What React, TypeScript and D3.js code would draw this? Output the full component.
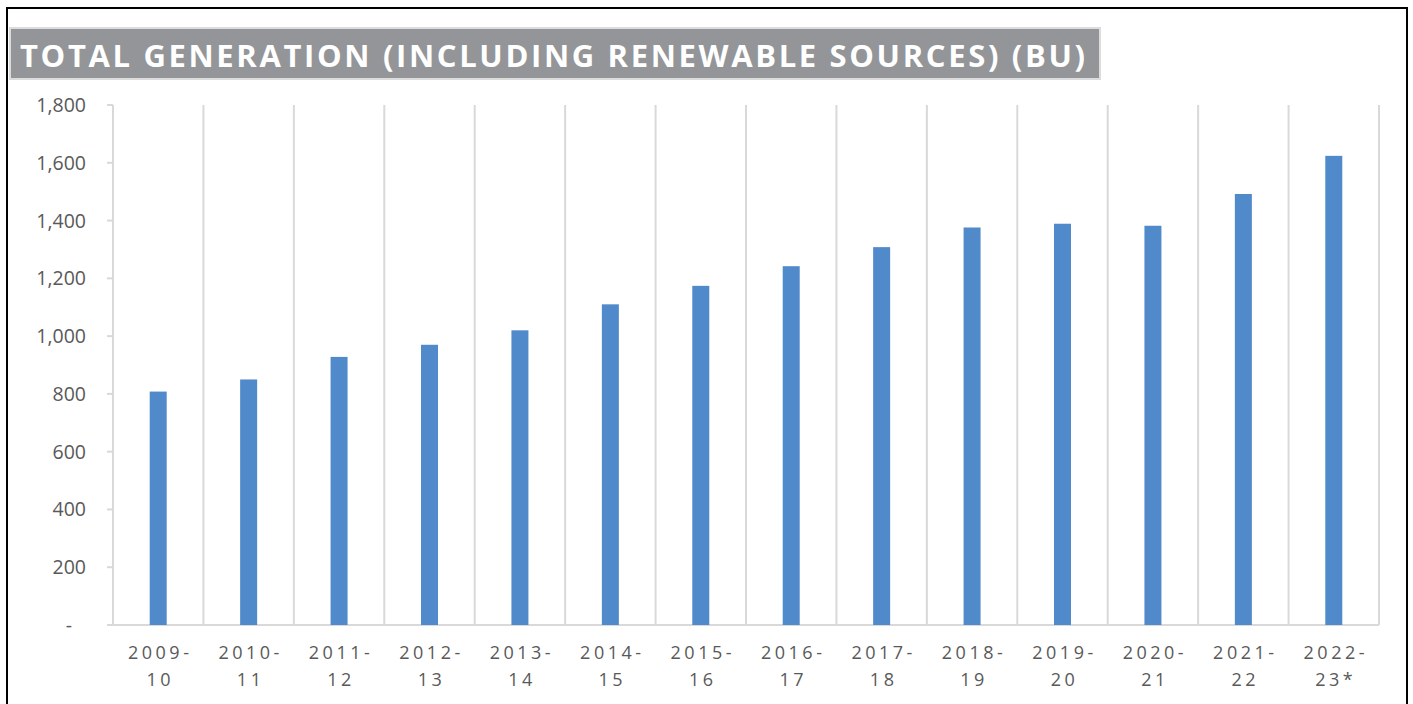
import React, { useEffect, useRef } from 'react';
import * as d3 from 'd3';

// chart data
const years = ['2009-10', '2010-11', '2011-12', '2012-13', '2013-14', '2014-15', '2015-16',
  '2016-17', '2017-18', '2018-19', '2019-20', '2020-21', '2021-22', '2022-23*'];
const generation = [808, 850, 928, 970, 1020, 1110, 1174, 1242, 1308, 1376, 1389, 1382, 1492, 1624];
const yTicks = [0, 200, 400, 600, 800, 1000, 1200, 1400, 1600, 1800];
const title = 'TOTAL GENERATION (INCLUDING RENEWABLE SOURCES) (BU)';

const App = () => {
  const chartRef = useRef<SVGSVGElement | null>(null);

  useEffect(() => {
    drawChart();
  }, []);

  const drawChart = () => {
    const svg = d3.select(chartRef.current);
    svg.selectAll('*').remove();

    const left = 113, right = 1379, top = 105, bottom = 625;
    const font = "'Open Sans', 'Noto Sans', sans-serif";

    // outer frame
    svg.append('rect')
      .attr('x', 7).attr('y', 8)
      .attr('width', 1400).attr('height', 720)
      .attr('fill', 'white')
      .attr('stroke', 'black')
      .attr('stroke-width', 2);

    // title banner
    svg.append('rect')
      .attr('x', 10).attr('y', 28)
      .attr('width', 1090).attr('height', 51)
      .attr('fill', '#939598')
      .attr('stroke', '#dcdcdc')
      .attr('stroke-width', 2);
    svg.append('text')
      .attr('x', 20).attr('y', 67)
      .attr('textLength', 1065)
      .attr('lengthAdjust', 'spacing')
      .style('font-family', font)
      .style('font-weight', 'bold')
      .style('font-size', '31px')
      .style('fill', 'white')
      .text(title);

    const xScale = d3.scaleBand<string>()
      .domain(years)
      .range([left, right])
      .paddingInner(0)
      .paddingOuter(0);

    const yScale = d3.scaleLinear()
      .domain([0, 1800])
      .range([bottom, top]);

    // vertical gridlines on category boundaries
    const bounds = years.map(y => xScale(y) as number).concat([right]);
    svg.selectAll('.vgrid')
      .data(bounds)
      .enter()
      .append('line')
      .attr('class', 'vgrid')
      .attr('x1', d => d).attr('x2', d => d)
      .attr('y1', top).attr('y2', bottom)
      .attr('stroke', '#d9d9d9')
      .attr('stroke-width', 2);

    // y tick marks
    svg.selectAll('.ytick')
      .data(yTicks)
      .enter()
      .append('line')
      .attr('class', 'ytick')
      .attr('x1', left - 6).attr('x2', left)
      .attr('y1', d => yScale(d)).attr('y2', d => yScale(d))
      .attr('stroke', '#d9d9d9')
      .attr('stroke-width', 2);

    // baseline
    svg.append('line')
      .attr('x1', left - 6).attr('x2', right)
      .attr('y1', bottom).attr('y2', bottom)
      .attr('stroke', '#d9d9d9')
      .attr('stroke-width', 2);

    // y labels
    svg.selectAll('.ylabel')
      .data(yTicks)
      .enter()
      .append('text')
      .attr('class', 'ylabel')
      .attr('x', d => (d === 0 ? 72 : 86))
      .attr('y', d => yScale(d) + 7)
      .attr('text-anchor', 'end')
      .style('font-family', font)
      .style('font-size', '19.5px')
      .style('fill', '#595959')
      .text(d => (d === 0 ? '-' : d3.format(',')(d)));

    // bars
    const barW = 17;
    svg.selectAll('.bar')
      .data(generation)
      .enter()
      .append('rect')
      .attr('class', 'bar')
      .attr('x', (d, i) => (xScale(years[i]) as number) + xScale.bandwidth() / 2 - barW / 2)
      .attr('y', d => yScale(d))
      .attr('width', barW)
      .attr('height', d => bottom - yScale(d))
      .attr('fill', '#508aca');

    // x labels, split over two lines
    const xl = svg.selectAll('.xlabel')
      .data(years)
      .enter()
      .append('text')
      .attr('class', 'xlabel')
      .attr('text-anchor', 'middle')
      .style('font-family', font)
      .style('font-size', '18px')
      .style('letter-spacing', '3.5px')
      .style('fill', '#595959');
    xl.append('tspan')
      .attr('x', d => (xScale(d) as number) + xScale.bandwidth() / 2 + 2)
      .attr('y', 659)
      .text(d => d.split('-')[0] + '-');
    xl.append('tspan')
      .attr('x', d => (xScale(d) as number) + xScale.bandwidth() / 2 + 2)
      .attr('y', 686)
      .text(d => d.split('-')[1]);
  };

  return (
    <>
      <style>{'body { margin: 0; }'}</style>
      <svg ref={chartRef} width={1413} height={704} style={{ display: 'block' }} />
    </>
  );
};

export default App;
